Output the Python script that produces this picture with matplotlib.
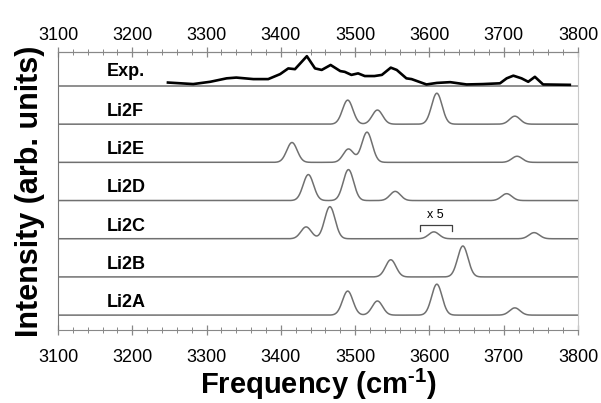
import numpy as np
import matplotlib
matplotlib.use('Agg')
import matplotlib.pyplot as plt
from matplotlib.ticker import MultipleLocator

###############################################################################
# data (intensities in arb. units, 1 = trace spacing)
exp_freq = [3248, 3282, 3305, 3327, 3340, 3363, 3383, 3399, 3410, 3419,
            3435, 3446, 3455, 3467, 3480, 3486, 3495, 3504, 3513, 3526,
            3536, 3548, 3556, 3569, 3576, 3596, 3610, 3628, 3650, 3672,
            3695, 3704, 3713, 3724, 3733, 3742, 3753, 3789]
exp_int = [0.09, 0.05, 0.11, 0.20, 0.22, 0.18, 0.18, 0.31, 0.46, 0.44,
           0.78, 0.46, 0.42, 0.55, 0.39, 0.37, 0.29, 0.33, 0.26, 0.26,
           0.29, 0.48, 0.42, 0.20, 0.18, 0.04, 0.08, 0.10, 0.04, 0.05,
           0.07, 0.20, 0.27, 0.20, 0.11, 0.24, 0.04, 0.03]

calc_names = ['Li2A', 'Li2B', 'Li2C', 'Li2D', 'Li2E', 'Li2F']
peak_pos = [
    [3490, 3530, 3610, 3715],
    [3548, 3645],
    [3434, 3466, 3606, 3741],
    [3437, 3491, 3554, 3704],
    [3415, 3491, 3516, 3718],
    [3490, 3530, 3610, 3715],
]
peak_int = [
    [0.63, 0.37, 0.81, 0.19],
    [0.45, 0.81],
    [0.31, 0.84, 0.18, 0.16],
    [0.68, 0.81, 0.24, 0.18],
    [0.52, 0.35, 0.79, 0.16],
    [0.63, 0.37, 0.81, 0.21],
]
peak_sigma = 7.0  # gaussian broadening, cm-1

xticks = [3100, 3200, 3300, 3400, 3500, 3600, 3700, 3800]

###############################################################################
plt.rcParams['font.family'] = ['Liberation Sans', 'DejaVu Sans']
plt.rcParams['mathtext.fontset'] = 'custom'
plt.rcParams['mathtext.rm'] = 'Liberation Sans:bold'
plt.rcParams['mathtext.bf'] = 'Liberation Sans:bold'

fig = plt.figure(figsize=(6.01, 4.03), dpi=100)
ax = fig.add_axes([0.0965, 0.1811, 0.8652, 0.6899])

grid = np.linspace(3100, 3800, 1401)
tracecol = '#707070'

for i, name in enumerate(calc_names):
    spec = np.zeros_like(grid)
    for p, h in zip(peak_pos[i], peak_int[i]):
        spec += h * np.exp(-(grid - p) ** 2 / (2 * peak_sigma ** 2))
    ax.plot(grid, spec + i, color=tracecol, lw=1.1)
    ax.text(3166, i + 0.33, name, fontsize=13, fontweight='bold',
            va='center', ha='left')

# experimental trace on top
n = len(calc_names)
ax.plot([3100, 3800], [n, n], color=tracecol, lw=1.1)
ax.plot(exp_freq, np.array(exp_int) + n, color='black', lw=1.9)
ax.text(3166, n + 0.38, 'Exp.', fontsize=13, fontweight='bold',
        va='center', ha='left')

# x5 bracket on Li2C
ic = calc_names.index('Li2C')
ax.plot([3587, 3587, 3630, 3630], [ic + 0.19, ic + 0.37, ic + 0.37, ic + 0.19],
        color='#404040', lw=0.9)
ax.text(3608, ic + 0.62, 'x 5', fontsize=9, ha='center', va='center')

ax.set_xlim(3100, 3800)
ax.set_ylim(-0.39, n + 0.89)
ax.set_yticks([])

# bottom axis
ax.set_xticks(xticks)
ax.xaxis.set_minor_locator(MultipleLocator(20))
ax.tick_params(axis='x', which='both', direction='inout', color='#888888',
               labelsize=13, pad=10)
ax.tick_params(axis='x', which='major', length=7, width=0.9)
ax.tick_params(axis='x', which='minor', length=4, width=0.7)

# top axis (own pad)
top = ax.secondary_xaxis('top')
top.set_xticks(xticks)
top.xaxis.set_minor_locator(MultipleLocator(20))
top.tick_params(axis='x', which='both', direction='inout', color='#888888',
                labelsize=13, pad=2)
top.tick_params(axis='x', which='major', length=7, width=0.9)
top.tick_params(axis='x', which='minor', length=4, width=0.7)
top.spines['top'].set_color('#888888')

ax.spines['left'].set_color('#777777')
ax.spines['top'].set_color('#888888')
ax.spines['bottom'].set_color('#888888')
ax.spines['right'].set_color('#c8c8c8')

ax.set_xlabel('Frequency (cm$^{\\text{-1}}$)', fontsize=21, fontweight='bold',
              labelpad=1)
ax.set_ylabel('Intensity (arb. units)', fontsize=22, fontweight='bold',
              labelpad=9)

fig.savefig('out.png', dpi=100)
